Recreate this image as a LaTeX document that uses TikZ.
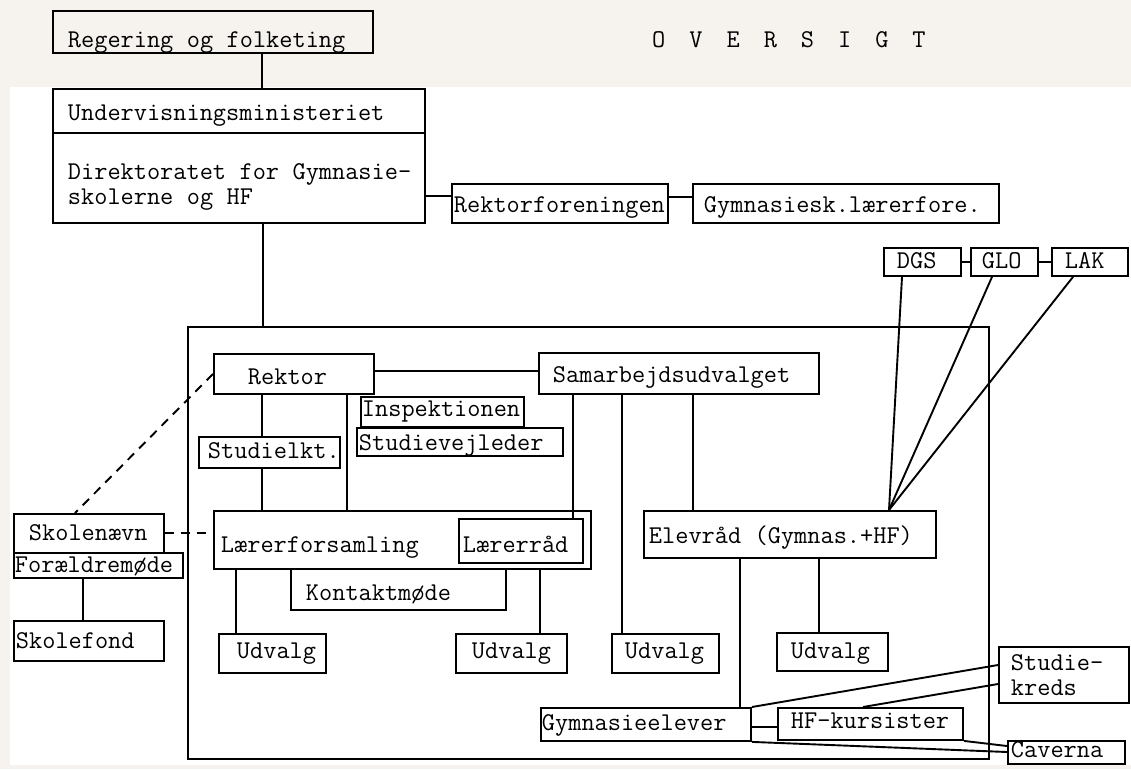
\documentclass[tikz,border=0pt]{standalone}
\usepackage{fontspec}
\usetikzlibrary{calc}
\definecolor{paper}{RGB}{246,243,238}
\tikzset{
  bx/.style={draw, line width=1.9pt, anchor=north west, inner ysep=0pt, align=left,
             font=\ttfamily\fontsize{25.6}{25}\selectfont},
  ln/.style={line width=1.9pt},
  dsh/.style={line width=1.9pt, dash pattern=on 9pt off 7pt},
  ttl/.style={font=\ttfamily\fontsize{25.6}{25}\selectfont, anchor=base west, inner sep=0pt},
}
\newcommand\ws{\spaceskip=0.525em\relax\xspaceskip=0.525em\relax}
% name, x1, y1, x2, y2, text x, baseline, text
\newcommand\bx[8]{\node[bx, inner xsep={(#6)-(#2)}, text width={(#4)-(#2)-2*((#6)-(#2))},
  text height={(#7)-(#3)}, text depth={(#5)-(#7)}] (#1) at (#2,#3) {\mbox{\ws #8}};}
\newcommand\bxx[9]{\node[bx, inner xsep={(#6)-(#2)}, text width={(#4)-(#2)-2*((#6)-(#2))},
  text height={(#7)-(#3)}, text depth={(#5)-(#7)}] (#1) at (#2,#3) {\mbox{\ws #8}\\\mbox{\ws #9}};}
\newcommand\gp{\hspace{24pt}}
\begin{document}
\begin{tikzpicture}[x=1pt,y=-1pt]
\useasboundingbox (0,0) rectangle (1131,769);
\fill[paper] (0,0) rectangle (1131,769);
\fill[white] (10,87) rectangle (1131,765);

% boxes
\bx{reg}{52}{10}{372}{52}{67}{47}{Regering og folketing}
\node[ttl] (ov) at (652,47) {O\gp V\gp E\gp R\gp S\gp I\gp G\gp T};
\bx{um}{52}{88}{424}{132}{67}{120}{Undervisningsministeriet}
\bxx{dir}{52}{132}{424}{222}{67}{179}{Direktoratet for Gymnasie-}{skolerne og HF}
\bx{rf}{451}{183}{667}{222}{453}{212}{Rektorforeningen}
\bx{gl}{692}{183}{998}{222}{703}{212}{Gymnasiesk.lærerfore.}
\bx{dgs}{883}{247}{960}{275}{896}{268}{DGS}
\bx{glo}{970}{247}{1037}{275}{981}{268}{GLO}
\bx{lak}{1051}{247}{1127}{275}{1064}{268}{LAK}
\node[draw, ln, anchor=north west, minimum width=801pt, minimum height=432pt, inner sep=0pt] (big) at (187,326) {};
\bx{rektor}{213}{353}{373}{393}{247}{384}{Rektor}
\bx{samarb}{538}{352}{818}{393}{552}{382}{Samarbejdsudvalget}
\bx{insp}{360}{396}{523}{426}{361}{416}{Inspektionen}
\bx{stv}{356}{427}{562}{455}{358}{450}{Studievejleder}
\bx{stk}{198}{436}{339}{467}{207}{458}{Studielkt.}
\bx{lf}{213}{510}{590}{568}{220}{552}{Lærerforsamling}
\bx{lr}{458}{518}{582}{562}{462}{552}{Lærerråd}
\bx{km}{290}{568}{505}{609}{305}{600}{Kontaktmøde}
\bx{el}{643}{510}{935}{557}{648}{543}{Elevråd (Gymnas.+HF)}
\bx{u1}{218}{633}{325}{672}{236}{658}{Udvalg}
\bx{u2}{455}{633}{566}{672}{471}{658}{Udvalg}
\bx{u3}{611}{633}{718}{672}{624}{658}{Udvalg}
\bx{u4}{776}{632}{887}{670}{790}{658}{Udvalg}
\bx{ge}{540}{707}{750}{740}{541}{730}{Gymnasieelever}
\bx{hf}{777}{707}{962}{739}{790}{728}{HF-kursister}
\bxx{sk}{998}{646}{1128}{702}{1010}{670}{Studie-}{kreds}
\bx{cav}{1007}{740}{1124}{763}{1010}{757}{Caverna}
\bx{skn}{13}{513}{163}{552}{28}{540}{Skolenævn}
\bx{fm}{13}{552}{182}{577}{14}{572}{Forældremøde}
\bx{sf}{13}{620}{163}{660}{15}{648}{Skolefond}

% connectors
\draw[ln] (reg.south -| 262,0) -- (um.north -| 262,0);
\draw[ln] (dir.south -| 263,0) -- (big.north -| 263,0);
\draw[ln] (dir.east |- 0,196) -- (rf.west |- 0,196);
\draw[ln] (rf.east |- 0,197) -- (gl.west |- 0,197);
\draw[ln] (dgs.east |- 0,262) -- (glo.west |- 0,262);
\draw[ln] (glo.east |- 0,262) -- (lak.west |- 0,262);
\draw[ln] (dgs.south -| 902,0) -- (el.north -| 889,0);
\draw[ln] (glo.south -| 992,0) -- (el.north -| 889,0);
\draw[ln] (lak.south -| 1073,0) -- (el.north -| 889,0);
\draw[ln] (rektor.east |- 0,371) -- (samarb.west |- 0,371);
\draw[ln] (rektor.south -| 262,0) -- (stk.north -| 262,0);
\draw[ln] (stk.south -| 262,0) -- (lf.north -| 262,0);
\draw[ln] (rektor.south -| 347,0) -- (lf.north -| 347,0);
\draw[ln] (samarb.south -| 573,0) -- (lr.north -| 573,0);
\draw[ln] (samarb.south -| 622,0) -- (u3.north -| 622,0);
\draw[ln] (samarb.south -| 693,0) -- (el.north -| 693,0);
\draw[ln] (lf.south -| 236,0) -- (u1.north -| 236,0);
\draw[ln] (lf.south -| 540,0) -- (u2.north -| 540,0);
\draw[ln] (el.south -| 819,0) -- (u4.north -| 819,0);
\draw[ln] (el.south -| 740,0) -- (ge.north -| 740,0);
\draw[ln] (ge.east |- 0,727) -- (hf.west |- 0,727);
\draw[ln] (ge.north east) -- (sk.west |- 0,665);
\draw[ln] (hf.north -| 863,0) -- (sk.west |- 0,684);
\draw[ln] (ge.south east) -- (cav.west |- 0,752);
\draw[ln] (hf.south east) -- (cav.west |- 0,746);
\draw[dsh] (rektor.west) -- (skn.north -| 75,0);
\draw[dsh] (skn.east |- 0,533) -- (lf.west |- 0,533);
\draw[ln] (fm.south -| 83,0) -- (sf.north -| 83,0);
\end{tikzpicture}
\end{document}
